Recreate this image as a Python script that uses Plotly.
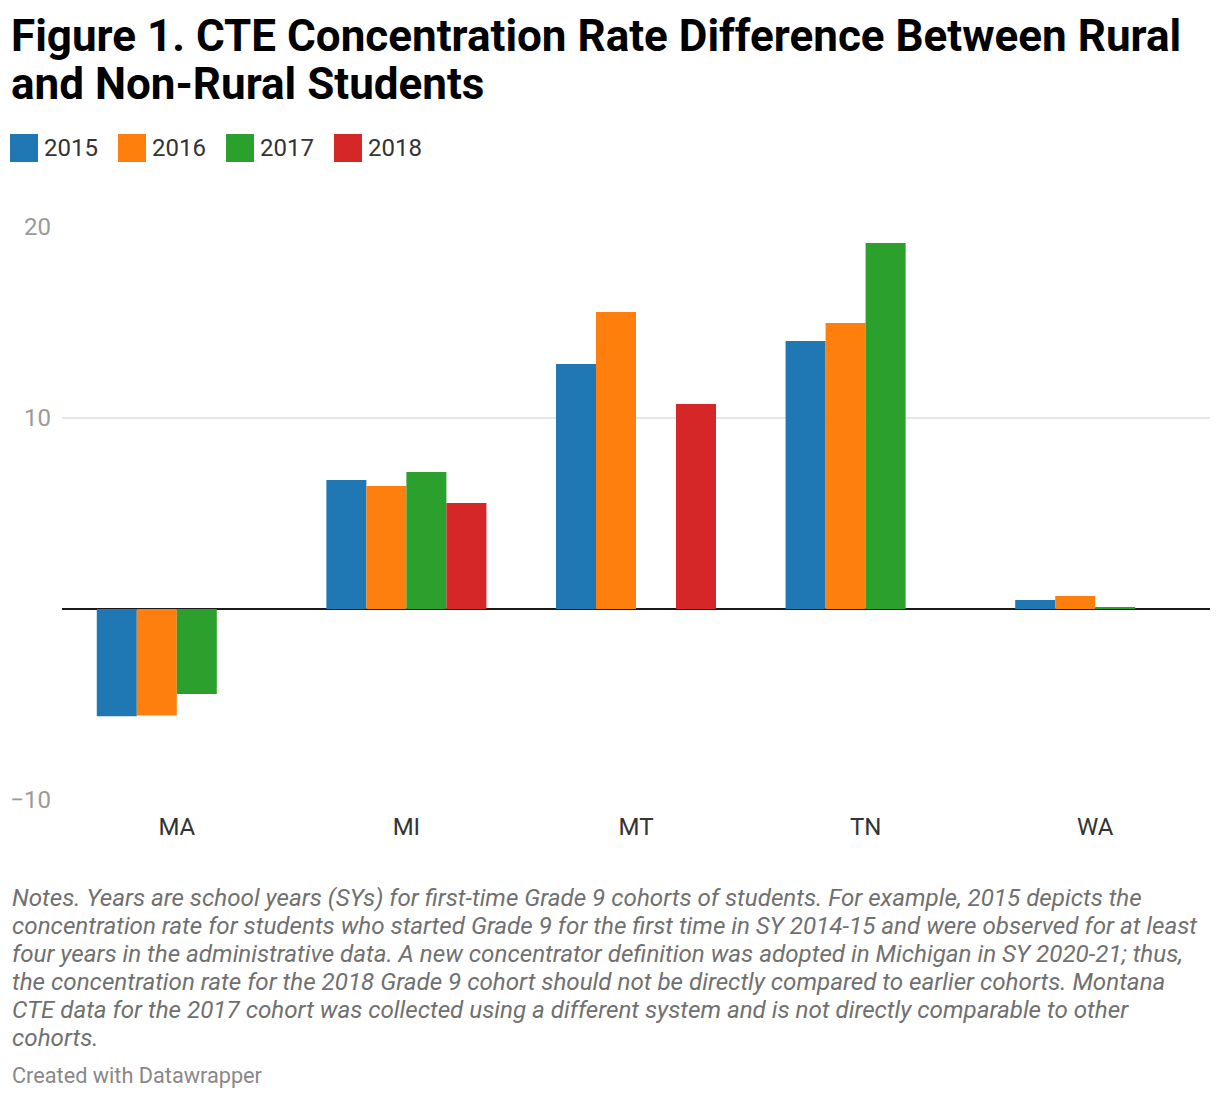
import plotly.graph_objects as go

states = ["MA", "MI", "MT", "TN", "WA"]
years = ["2015", "2016", "2017", "2018"]
v2015 = [-5.62, 6.75, 12.83, 14.03, 0.47]
v2016 = [-5.58, 6.44, 15.55, 14.97, 0.68]
v2017 = [-4.45, 7.17, None, 19.16, 0.08]
v2018 = [None, 5.55, 10.73, None, None]
series = [v2015, v2016, v2017, v2018]
colors = ["#1f77b4", "#ff7f0e", "#2ca02c", "#d62728"]
ytick_vals = [-10, 10, 20]

title_lines = ["Figure 1. CTE Concentration Rate Difference Between Rural",
               "and Non-Rural Students"]
notes_lines = [
    "Notes. Years are school years (SYs) for first-time Grade 9 cohorts of students. For example, 2015 depicts the",
    "concentration rate for students who started Grade 9 for the first time in SY 2014-15 and were observed for at least",
    "four years in the administrative data. A new concentrator definition was adopted in Michigan in SY 2020-21; thus,",
    "the concentration rate for the 2018 Grade 9 cohort should not be directly compared to earlier cohorts. Montana",
    "CTE data for the 2017 cohort was collected using a different system and is not directly comparable to other",
    "cohorts.",
]
credit = "Created with Datawrapper"

OFF = 8  # page offset of the figure
W, H = 1220 - OFF, 1100 - OFF
# plot area in page pixels
L, R, T, B = 62, 1210, 227, 800

def px(x):
    return (x - L) / (R - L)

def py(y):
    return (B - y) / (B - T)

fig = go.Figure()
for name, vals, c in zip(years, series, colors):
    fig.add_trace(go.Bar(x=states, y=vals, name=name, marker=dict(color=c, line=dict(width=0)),
                         showlegend=False))

annotations = []
shapes = []
FONT = "Roboto"

# title
for i, line in enumerate(title_lines):
    annotations.append(dict(text=f"<b>{line}</b>", x=px(9), y=py(36 + 48 * i), xref="paper", yref="paper",
                            xanchor="left", yanchor="middle", showarrow=False,
                            font=dict(family=FONT, size=44, color="#000000")))

# legend
for i, (name, c) in enumerate(zip(years, colors)):
    x0 = 10 + 108 * i
    shapes.append(dict(type="rect", xref="paper", yref="paper", x0=px(x0), x1=px(x0 + 28),
                       y0=py(162), y1=py(134), fillcolor=c, line=dict(width=0)))
    annotations.append(dict(text=name, x=px(x0 + 32), y=py(148), xref="paper", yref="paper",
                            xanchor="left", yanchor="middle", showarrow=False,
                            font=dict(family=FONT, size=24, color="#333333")))

# notes
for i, line in enumerate(notes_lines):
    annotations.append(dict(text=f"<i>{line}</i>", x=px(10), y=py(898 + 28 * i), xref="paper", yref="paper",
                            xanchor="left", yanchor="middle", showarrow=False,
                            font=dict(family=FONT, size=24.2, color="#707070")))
annotations.append(dict(text=credit, x=px(10), y=py(1075), xref="paper", yref="paper",
                        xanchor="left", yanchor="middle", showarrow=False,
                        font=dict(family=FONT, size=21.7, color="#888888")))

fig.update_layout(
    width=W, height=H,
    margin=dict(l=L - OFF, r=W - (R - OFF), t=T - OFF, b=H - (B - OFF), pad=0, autoexpand=False),
    paper_bgcolor="white", plot_bgcolor="white",
    barmode="group", bargap=0.303, bargroupgap=0,
    annotations=annotations, shapes=shapes,
    font=dict(family=FONT),
    xaxis=dict(showgrid=False, showline=False, ticks="", tickfont=dict(family=FONT, size=24, color="#333333"),
               ticklabelstandoff=10, fixedrange=True, automargin=False),
    yaxis=dict(range=[-10, 20], tickvals=ytick_vals, showgrid=True, gridcolor="#e6e6e6", gridwidth=2,
               zeroline=True, zerolinecolor="#1a1a1a", zerolinewidth=2, showline=False, ticks="",
               tickfont=dict(family=FONT, size=24, color="#9a9a9a"), ticklabelstandoff=10,
               automargin=False),
)

fig.write_html("out.html")
